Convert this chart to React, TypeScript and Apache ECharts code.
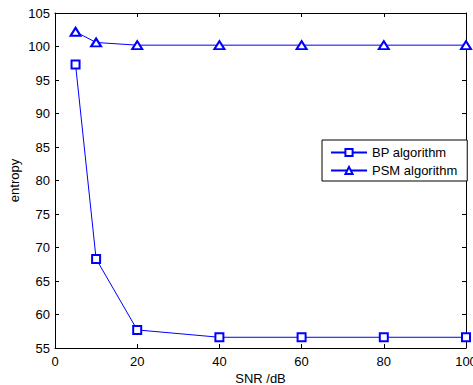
import React, { useEffect, useRef } from "react";
import * as echarts from "echarts";

const snr = [5, 10, 20, 40, 60, 80, 100];
const bpEntropy = [97.3, 68.3, 57.7, 56.6, 56.6, 56.6, 56.6];
const psmEntropy = [102.2, 100.6, 100.2, 100.2, 100.2, 100.2, 100.2];
const seriesNames = ["BP algorithm", "PSM algorithm"];

const FONT = "Liberation Sans, Arial, Helvetica, sans-serif";
const FS = 13;

export default function App() {
  const ref = useRef<HTMLDivElement>(null);
  useEffect(() => {
    if (!ref.current) return;
    const chart = echarts.init(ref.current, null, { renderer: "svg" });
    const axisCommon = {
      type: "value" as const,
      axisLine: { show: true, onZero: false, lineStyle: { color: "#000", width: 1 } },
      axisTick: { show: true, inside: true, length: 4, lineStyle: { color: "#000" } },
      splitLine: { show: false },
    };
    chart.setOption({
      animation: false,
      backgroundColor: "#fff",
      textStyle: { fontFamily: FONT },
      grid: {
        left: 55,
        right: 7,
        top: 13,
        bottom: 37,
        containLabel: false,
        outerBoundsMode: "none",
      },
      legend: {
        orient: "vertical",
        left: 322,
        top: 140,
        data: seriesNames,
        itemWidth: 36,
        itemHeight: 9,
        itemGap: 5,
        padding: [6, 10, 4, 8],
        borderColor: "#000",
        borderWidth: 1,
        borderRadius: 0,
        backgroundColor: "#fff",
        textStyle: { fontFamily: FONT, fontSize: FS, color: "#000" },
      },
      xAxis: [
        {
          ...axisCommon,
          position: "bottom",
          min: 0,
          max: 100,
          interval: 20,
          name: "SNR /dB",
          nameLocation: "middle",
          nameMoveOverlap: false,
          nameGap: 24,
          nameTextStyle: { fontFamily: FONT, fontSize: FS, color: "#000", lineHeight: 13 },
          axisLabel: { fontFamily: FONT, fontSize: FS, color: "#000", margin: 7 },
        },
        {
          ...axisCommon,
          position: "top",
          min: 0,
          max: 100,
          interval: 20,
          axisLabel: { show: false },
        },
      ],
      yAxis: [
        {
          ...axisCommon,
          position: "left",
          min: 55,
          max: 105,
          interval: 5,
          name: "entropy",
          nameLocation: "middle",
          nameMoveOverlap: false,
          nameGap: 34,
          nameTextStyle: { fontFamily: FONT, fontSize: FS, color: "#000", lineHeight: 13 },
          axisLabel: { fontFamily: FONT, fontSize: FS, color: "#000", margin: 5 },
        },
        {
          ...axisCommon,
          position: "right",
          min: 55,
          max: 105,
          interval: 5,
          axisLabel: { show: false },
        },
      ],
      series: [
        {
          name: seriesNames[0],
          type: "line",
          data: snr.map((x, i) => [x, bpEntropy[i]]),
          symbol: "emptyRect",
          symbolSize: 8,
          color: "#0000ff",
          lineStyle: { color: "#0000ff", width: 1 },
          itemStyle: { color: "#0000ff", borderColor: "#0000ff", borderWidth: 0.8 },
        },
        {
          name: seriesNames[1],
          type: "line",
          data: snr.map((x, i) => [x, psmEntropy[i]]),
          symbol: "emptyTriangle",
          symbolSize: [10, 8],
          color: "#0000ff",
          lineStyle: { color: "#0000ff", width: 1 },
          itemStyle: { color: "#0000ff", borderColor: "#0000ff", borderWidth: 0.8 },
        },
      ],
    });
    return () => chart.dispose();
  }, []);
  return <div ref={ref} style={{ width: 473, height: 385, position: "absolute", left: 0, top: 0 }} />;
}
